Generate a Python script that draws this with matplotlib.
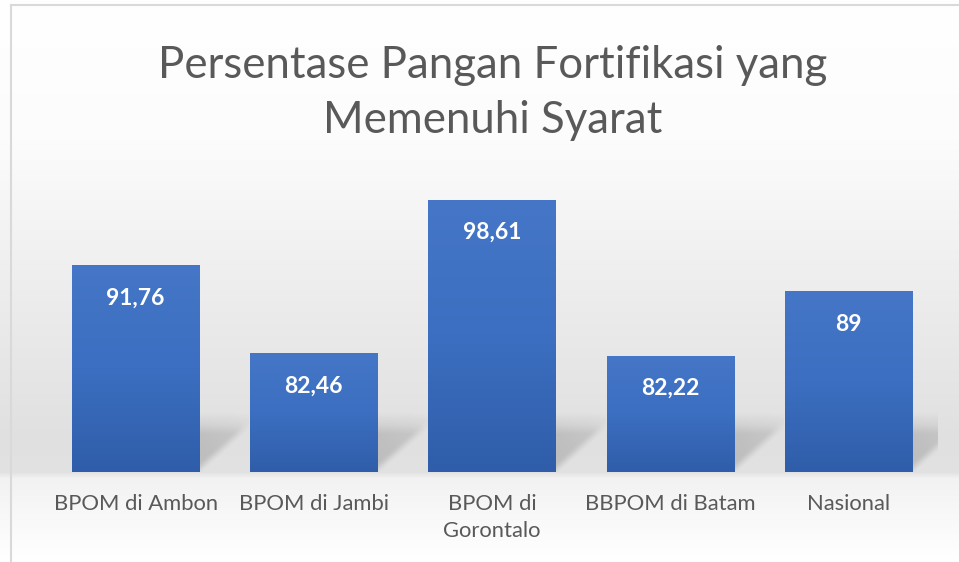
import numpy as np
import matplotlib
matplotlib.use("Agg")
import matplotlib.pyplot as plt
from matplotlib.colors import LinearSegmentedColormap

categories = ["BPOM di Ambon", "BPOM di Jambi", "BPOM di Gorontalo", "BBPOM di Batam", "Nasional"]
tick_labels = ["BPOM di Ambon", "BPOM di Jambi", "BPOM di\nGorontalo", "BBPOM di Batam", "Nasional"]
values = [91.76, 82.46, 98.61, 82.22, 89]
value_labels = ["91,76", "82,46", "98,61", "82,22", "89"]
title = "Persentase Pangan Fortifikasi yang\nMemenuhi Syarat"

W, H = 959, 562
DPI = 100
plt.rcParams['font.family'] = ['Lato', 'DejaVu Sans']

fig = plt.figure(figsize=(W / DPI, H / DPI), dpi=DPI)

# background gradient axes (pixel coords)
bg = fig.add_axes([0, 0, 1, 1], zorder=-10)
bg.set_xlim(0, W)
bg.set_ylim(H, 0)
bg.axis("off")
ys = np.array([0, 140, 300, 440, 472, 478, 520, 562])
cs = np.array([255, 252, 236, 224, 226, 242, 249, 255])
grad = np.interp(np.arange(H), ys, cs) / 255.0
img = np.repeat(grad[:, None], 2, axis=1)
bg.imshow(np.dstack([img, img, img]), extent=[0, W, H, 0], aspect="auto", interpolation="bilinear")
bg.plot([11, 11], [5, H], color="#d9d9d9", lw=1.5)
bg.plot([11, W], [5, 5], color="#d9d9d9", lw=1.5)

# data axes
left_px, right_px, base_px, top_px = 46.5, 937.5, 472, 186.4
ax = fig.add_axes([left_px / W, (H - base_px) / H, (right_px - left_px) / W, (base_px - top_px) / H])
ax.set_xlim(-0.5, 4.5)
ax.set_ylim(70, 100)
ax.patch.set_alpha(0)
for s in ax.spines.values():
    s.set_visible(False)

px_x = (right_px - left_px) / 5.0   # pixels per x unit
px_y = (base_px - top_px) / 30.0    # pixels per y unit

x = np.arange(len(categories))
bw = 0.713
bars = ax.bar(x, values, width=bw, color="#3a6bbd", zorder=3)

# soft perspective shadows (2D alpha map, pixel units)
sw, sh = 50, 60
uu, vv = np.meshgrid(np.arange(sw) + 0.5, np.arange(sh) + 0.5)  # vv: pixels above baseline
vert = np.interp(vv, [0, 20, 38, 48, 60], [0.30, 0.30, 0.28, 0.12, 0.0])
diag = np.clip((vv - uu * 0.9 + 4) / 14.0, 0, 1)
diag = diag * diag * (3 - 2 * diag)
horiz = np.interp(uu, [0, 35, 50], [1.0, 0.8, 0.55])
a = vert * diag * horiz
shadow = np.zeros((sh, sw, 4))
shadow[..., :3] = 0.42
shadow[..., 3] = a
for b in bars:
    x1 = b.get_x() + b.get_width()
    x_end = min(x1 + sw / px_x, 4.5)
    frac = int(round((x_end - x1) * px_x))
    ax.imshow(shadow[:, :frac], extent=[x1, x_end, 70, 70 + sh / px_y], origin="lower",
              aspect="auto", interpolation="bilinear", zorder=2)

# bar gradients
cmap = LinearSegmentedColormap.from_list("barg", ["#2f5da9", "#3c6fc1", "#4576c8"])
gy = np.linspace(0, 1, 256)[:, None]
for b in bars:
    x0, w, h = b.get_x(), b.get_width(), b.get_height()
    gimg = ax.imshow(np.repeat(gy, 2, axis=1), cmap=cmap, extent=[x0, x0 + w, 70, h],
                     origin="lower", aspect="auto", interpolation="bilinear", zorder=4)
    gimg.set_clip_path(b)

ax.set_xlim(-0.5, 4.5)
ax.set_ylim(70, 100)

# value labels
for xi, v, lab in zip(x, values, value_labels):
    ax.annotate(lab, (xi, v), xytext=(0, -33), textcoords="offset pixels",
                ha="center", va="center", color="white", fontsize=16.5, fontweight="bold", zorder=6)

ax.set_yticks([])
ax.set_xticks(x)
ax.set_xticklabels(tick_labels, color="#595959", fontsize=15.8, linespacing=1.4)
ax.tick_params(axis="x", length=0, pad=16)

fig.text(493 / W, 1 - 93 / H, title, ha="center", va="center", color="#595959",
         fontsize=31.5, linespacing=1.45)

fig.savefig("out.png", dpi=DPI)
